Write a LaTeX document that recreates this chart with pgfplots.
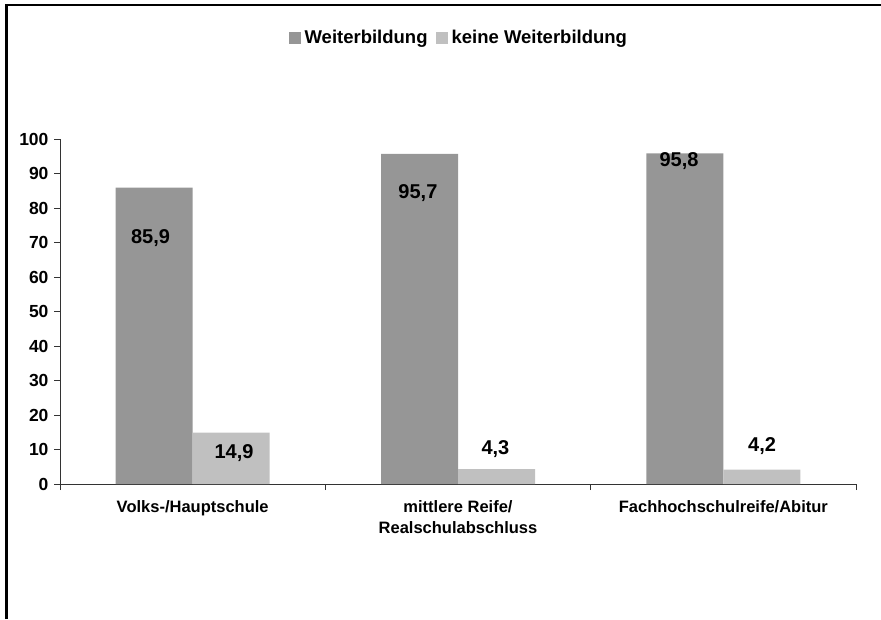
\documentclass[border=0pt]{standalone}
\usepackage{fontspec}
\setmainfont{Liberation Sans}
\usepackage{pgfplots}
\pgfplotsset{compat=1.18}
\definecolor{darkbar}{HTML}{969696}
\definecolor{lightbar}{HTML}{C0C0C0}
\definecolor{axisgray}{HTML}{333333}

\begin{document}
\begin{tikzpicture}
\path[use as bounding box] (0pt,0pt) rectangle (881pt,-619pt);
\draw[line width=2.5pt] (6.5pt,-619pt) -- (6.5pt,-5pt) -- (881pt,-5pt);
\begin{axis}[
    at={(60pt,-484pt)}, anchor=south west,
    width=796pt, height=345pt, scale only axis,
    xmin=-0.5, xmax=2.5, ymin=0, ymax=100,
    axis lines*=left,
    axis line style={axisgray, line width=0.8pt},
    tick style={axisgray, line width=0.8pt},
    tick align=outside, major tick length=6pt,
    ytick={0,10,...,100},
    yticklabel style={font=\fontsize{17.5}{20}\selectfont\bfseries, xshift=-2pt},
    /pgf/number format/assume math mode=true,
    xtick={-0.5,0.5,1.5,2.5}, xticklabels={},
    extra x ticks={0,1,2},
    extra x tick labels={Volks-/Hauptschule,{mittlere Reife/\\Realschulabschluss},Fachhochschulreife/Abitur},
    extra x tick style={major tick length=0pt},
    xticklabel style={align=center, yshift=-13pt, font=\fontsize{16.5}{21}\selectfont\bfseries},
    clip=false,
    legend style={at={(0.501,1.293)}, anchor=center, draw=none, fill=none,
        legend columns=2, font=\fontsize{18.5}{21}\selectfont\bfseries,
        /tikz/every even column/.append style={column sep=6pt}},
]
\addplot[ybar, bar width=77pt, bar shift=-38.5pt, fill=darkbar, draw=none,
    legend image code/.code={\fill[darkbar] (0pt,-6pt) rectangle (12pt,6pt); \path (14pt,0pt);}]
    coordinates {(0,85.9) (1,95.7) (2,95.8)};
\addplot[ybar, bar width=77pt, bar shift=38.5pt, fill=lightbar, draw=none,
    legend image code/.code={\fill[lightbar] (0pt,-6pt) rectangle (12pt,6pt); \path (14pt,0pt);}]
    coordinates {(0,14.9) (1,4.3) (2,4.2)};
\addplot[draw=none, forget plot, nodes near coords, point meta=explicit symbolic,
    every node near coord/.style={anchor=center, font=\fontsize{20}{24}\selectfont\bfseries}]
    table[meta=label, row sep=\\] {
    x y label \\
    -0.159 71.3 85,9 \\
    0.849 84.3 95,7 \\
    1.833 93.6 95,8 \\
    0.156 9.0 14,9 \\
    1.141 10.1 4,3 \\
    2.146 11.0 4,2 \\
    };
\legend{Weiterbildung, keine Weiterbildung}
\end{axis}
\end{tikzpicture}
\end{document}
